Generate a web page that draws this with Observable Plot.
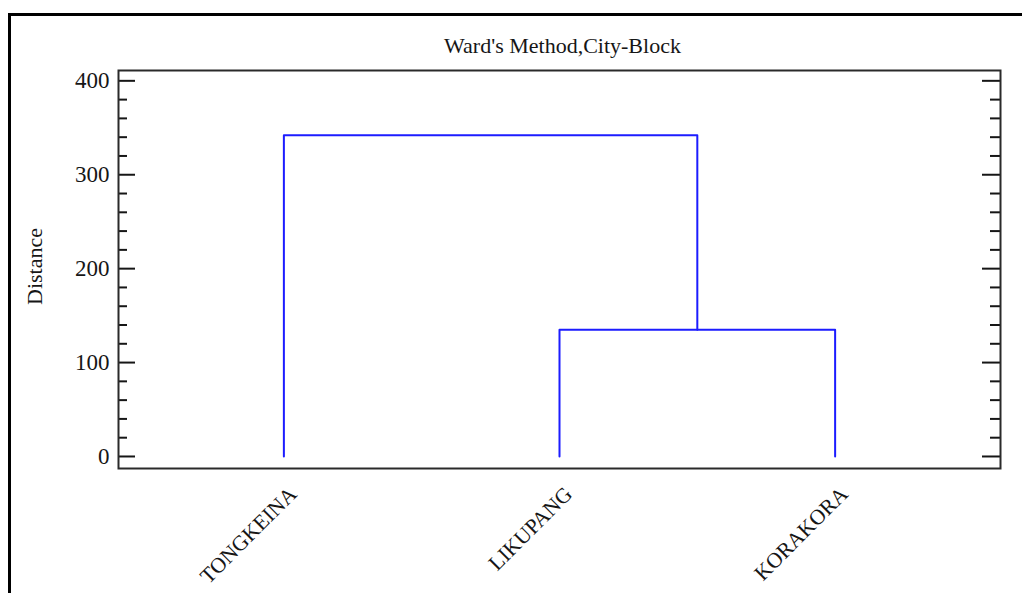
<!DOCTYPE html>
<html>
<head>
<meta charset="utf-8">
<script src="https://cdn.jsdelivr.net/npm/d3@7"></script>
<script src="https://cdn.jsdelivr.net/npm/@observablehq/plot@0.6"></script>
<style>
  html, body { margin: 0; padding: 0; background: #fff; overflow: hidden; width: 1022px; height: 593px; }
  #sheet { position: absolute; left: 8px; top: 12.5px; width: 1200px; height: 800px;
           border-top: 3px solid #000; border-left: 3px solid #000; }
  #chart { position: absolute; left: 0; top: 0; }
</style>
</head>
<body>
<div id="sheet"></div>
<div id="chart"></div>
<script>
// Dendrogram: Ward's method with city-block distance
const title = "Ward's Method,City-Block";
const yLabel = "Distance";
const leaves = ["TONGKEINA", "LIKUPANG", "KORAKORA"];
// Agglomeration steps: the two joined items and the joining distance
const mergeLeft = ["LIKUPANG", "TONGKEINA"];
const mergeRight = ["KORAKORA", "Cluster 1"];
const mergeHeight = [135, 342];
const majorTicks = [0, 100, 200, 300, 400];
const minorTicks = [20, 40, 60, 80, 120, 140, 160, 180, 220, 240, 260, 280, 320, 340, 360, 380];

// Node positions: leaves sit at 1..n, clusters at the mean of their children
const nodes = new Map();
leaves.forEach((name, i) => nodes.set(name, {x: i + 1, h: 0}));
const links = [];
mergeHeight.forEach((h, i) => {
  const a = nodes.get(mergeLeft[i]);
  const b = nodes.get(mergeRight[i]);
  nodes.set(`Cluster ${i + 1}`, {x: (a.x + b.x) / 2, h});
  links.push(
    {id: i, x: a.x, y: a.h},
    {id: i, x: a.x, y: h},
    {id: i, x: b.x, y: h},
    {id: i, x: b.x, y: b.h}
  );
});

const W = 1022, H = 593;
const mL = 118, mR = 22, mT = 70, mB = 125;
const frameW = W - mL - mR;
const font = "'Liberation Serif', 'Times New Roman', serif";
const ink = "#161616";

const chart = Plot.plot({
  width: W,
  height: H,
  marginLeft: mL,
  marginRight: mR,
  marginTop: mT,
  marginBottom: mB,
  style: {background: "transparent", fontFamily: font},
  x: {type: "linear", domain: [0.4, 3.6], axis: null},
  y: {domain: [-12.8, 411], axis: null},
  marks: [
    // inward ticks on both sides of the frame
    Plot.ruleY(majorTicks, {y: d => d, stroke: ink, strokeWidth: 2, insetRight: frameW - 17}),
    Plot.ruleY(minorTicks, {y: d => d, stroke: ink, strokeWidth: 2, insetRight: frameW - 9}),
    Plot.ruleY(majorTicks, {y: d => d, stroke: ink, strokeWidth: 2, insetLeft: frameW - 18}),
    Plot.ruleY(minorTicks, {y: d => d, stroke: ink, strokeWidth: 2, insetLeft: frameW - 10}),
    Plot.text(majorTicks, {y: d => d, text: d => String(d), frameAnchor: "left", textAnchor: "end",
      dx: -9, fontSize: 23, fill: ink}),
    // dendrogram links
    Plot.line(links, {x: "x", y: "y", z: "id", stroke: "#1c1cff", strokeWidth: 2, curve: "linear"}),
    Plot.frame({stroke: "#2a2a2a", strokeWidth: 2}),
    // leaf labels
    Plot.text(leaves, {x: (d, i) => i + 1, text: d => d, frameAnchor: "bottom", textAnchor: "end",
      lineAnchor: "bottom", rotate: -45, dx: 14, dy: 27, fontSize: 21.5, fill: ink}),
    // axis label and title
    Plot.text([yLabel], {frameAnchor: "left", text: d => d, rotate: -90, textAnchor: "middle",
      lineAnchor: "bottom", dx: -77, dy: -3, fontSize: 22, fill: ink}),
    Plot.text([title], {frameAnchor: "top", text: d => d, textAnchor: "middle", lineAnchor: "bottom",
      dx: 3, dy: -18, fontSize: 22, fill: ink})
  ]
});
document.getElementById("chart").appendChild(chart);
</script>
</body>
</html>
